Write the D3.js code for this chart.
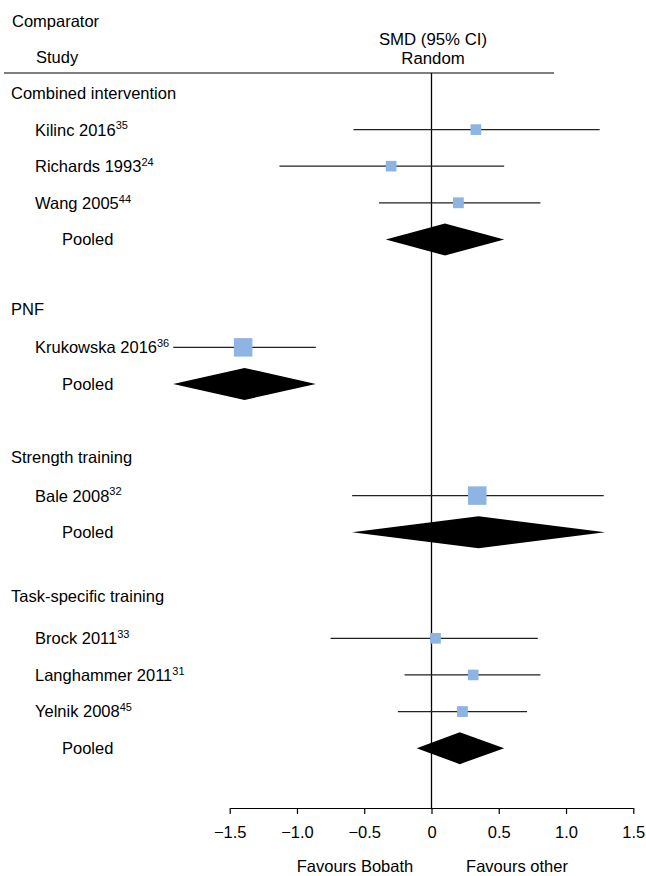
<!DOCTYPE html>
<html>
<head>
<meta charset="utf-8">
<script src="https://cdn.jsdelivr.net/npm/d3@7"></script>
<style>
  html, body { margin: 0; padding: 0; background: #fff; }
  svg { display: block; }
  text { font-family: "Liberation Sans", Arial, sans-serif; fill: #000; }
</style>
</head>
<body>
<svg id="chart" width="646" height="876"></svg>
<script>
// Comparator groups, in drawing order
const groups = ["Combined intervention", "PNF", "Strength training", "Task-specific training"];

// Individual studies: name, reference number, group
const studyNames = ["Kilinc 2016", "Richards 1993", "Wang 2005",
                    "Krukowska 2016",
                    "Bale 2008",
                    "Brock 2011", "Langhammer 2011", "Yelnik 2008"];
const studyRefs   = ["35", "24", "44", "36", "32", "33", "31", "45"];
const studyGroups = [0, 0, 0, 1, 2, 3, 3, 3];

// Standardised mean differences with 95% CI, and weight within group (%)
const studySMD   = [0.33, -0.30, 0.20, -1.40, 0.34, 0.03, 0.31, 0.23];
const studyLower = [-0.58, -1.13, -0.39, -1.92, -0.59, -0.75, -0.20, -0.25];
const studyUpper = [1.25, 0.54, 0.81, -0.86, 1.28, 0.79, 0.81, 0.71];
const studyWeight = [33, 33, 34, 100, 100, 33, 33, 34];

// Pooled (random effects) estimates per group
const pooledSMD   = [0.10, -1.39, 0.35, 0.21];
const pooledLower = [-0.34, -1.92, -0.59, -0.11];
const pooledUpper = [0.54, -0.86, 1.29, 0.54];

// Axis
const tickValues = [-1.5, -1.0, -0.5, 0, 0.5, 1.0, 1.5];
const tickLabels = ["\u22121.5", "\u22121.0", "\u22120.5", "0", "0.5", "1.0", "1.5"];
const favourLabels = ["Favours Bobath", "Favours other"];

// ---- layout ----
const svg = d3.select("#chart");
const FS = 16.5;

const x = d3.scaleLinear().domain([-1.5, 1.5]).range([229.7, 633.3]);
// vertical slot positions (in row units) for each line of the table
const rowY = d3.scaleLinear().domain([0, 1]).range([93, 129.6]);
const headerSlot = [0, 5.9, 9.95, 13.75];
const studySlot  = [1, 2, 3, 6.95, 11, 14.9, 15.9, 16.9];
const pooledSlot = [4, 7.95, 12, 17.9];
const axisY = 808;

const sizeScale = d3.scaleSqrt().domain([0, 100]).range([0, 18.5]);
const boxColor = "#8db4e2";

// column headings
svg.append("text").attr("x", 12).attr("y", 26.5).attr("font-size", FS).text("Comparator");
svg.append("text").attr("x", 36).attr("y", 63).attr("font-size", FS).text("Study");
svg.append("text").attr("x", 433).attr("y", 45).attr("font-size", 16.8)
  .attr("text-anchor", "middle").text("SMD (95% CI)");
svg.append("text").attr("x", 433).attr("y", 64).attr("font-size", 16.8)
  .attr("text-anchor", "middle").text("Random");
svg.append("line").attr("x1", 4).attr("x2", 554).attr("y1", 73).attr("y2", 73)
  .attr("stroke", "#000").attr("stroke-width", 1.2);

// line of no effect
svg.append("line").attr("x1", x(0)).attr("x2", x(0)).attr("y1", 73).attr("y2", axisY)
  .attr("stroke", "#000").attr("stroke-width", 1.3);

// group headings
svg.selectAll("text.group").data(groups).join("text")
  .attr("class", "group")
  .attr("x", 11)
  .attr("y", (d, i) => rowY(headerSlot[i]))
  .attr("dy", "0.36em")
  .attr("font-size", FS)
  .text(d => d);

// study labels with superscript references
const studies = studyNames.map((n, i) => ({
  name: n, ref: studyRefs[i], group: studyGroups[i],
  smd: studySMD[i], lo: studyLower[i], hi: studyUpper[i], w: studyWeight[i], slot: studySlot[i]
}));

const lab = svg.selectAll("text.study").data(studies).join("text")
  .attr("class", "study")
  .attr("x", 35)
  .attr("y", d => rowY(d.slot))
  .attr("dy", "0.36em")
  .attr("font-size", FS);
lab.append("tspan").text(d => d.name);
lab.append("tspan").attr("font-size", 11).attr("dy", "-0.55em").text(d => d.ref);

// confidence interval lines
svg.selectAll("line.ci").data(studies).join("line")
  .attr("class", "ci")
  .attr("x1", d => x(d.lo)).attr("x2", d => x(d.hi))
  .attr("y1", d => rowY(d.slot)).attr("y2", d => rowY(d.slot))
  .attr("stroke", "#222").attr("stroke-width", 1.2);

// weighted boxes
svg.selectAll("rect.box").data(studies).join("rect")
  .attr("class", "box")
  .attr("x", d => x(d.smd) - sizeScale(d.w) / 2)
  .attr("y", d => rowY(d.slot) - sizeScale(d.w) / 2)
  .attr("width", d => sizeScale(d.w))
  .attr("height", d => sizeScale(d.w))
  .attr("fill", boxColor);

// pooled estimates
const pooled = groups.map((g, i) => ({
  smd: pooledSMD[i], lo: pooledLower[i], hi: pooledUpper[i], slot: pooledSlot[i]
}));

svg.selectAll("text.pooled").data(pooled).join("text")
  .attr("class", "pooled")
  .attr("x", 62)
  .attr("y", d => rowY(d.slot))
  .attr("dy", "0.36em")
  .attr("font-size", FS)
  .text("Pooled");

const halfH = 16;
svg.selectAll("path.diamond").data(pooled).join("path")
  .attr("class", "diamond")
  .attr("d", d => {
    const yc = rowY(d.slot);
    return `M${x(d.lo)},${yc}L${x(d.smd)},${yc - halfH}L${x(d.hi)},${yc}L${x(d.smd)},${yc + halfH}Z`;
  })
  .attr("fill", "#000");

// x axis
const axis = d3.axisBottom(x)
  .tickValues(tickValues)
  .tickFormat((d, i) => tickLabels[i])
  .tickSizeInner(6)
  .tickSizeOuter(0)
  .tickPadding(12);

const ax = svg.append("g").attr("transform", `translate(0,${axisY})`).call(axis);
ax.select(".domain").attr("stroke", "#000").attr("stroke-width", 1.2);
ax.selectAll(".tick line").attr("stroke", "#000").attr("stroke-width", 1.2);
ax.selectAll(".tick text")
  .attr("font-size", FS)
  .attr("font-family", "Liberation Sans, Arial, sans-serif")
  .attr("fill", "#000");

// direction labels
svg.selectAll("text.favour").data(favourLabels).join("text")
  .attr("class", "favour")
  .attr("x", (d, i) => i === 0 ? 355 : 517)
  .attr("y", 872)
  .attr("text-anchor", "middle")
  .attr("font-size", FS)
  .text(d => d);
</script>
</body>
</html>
